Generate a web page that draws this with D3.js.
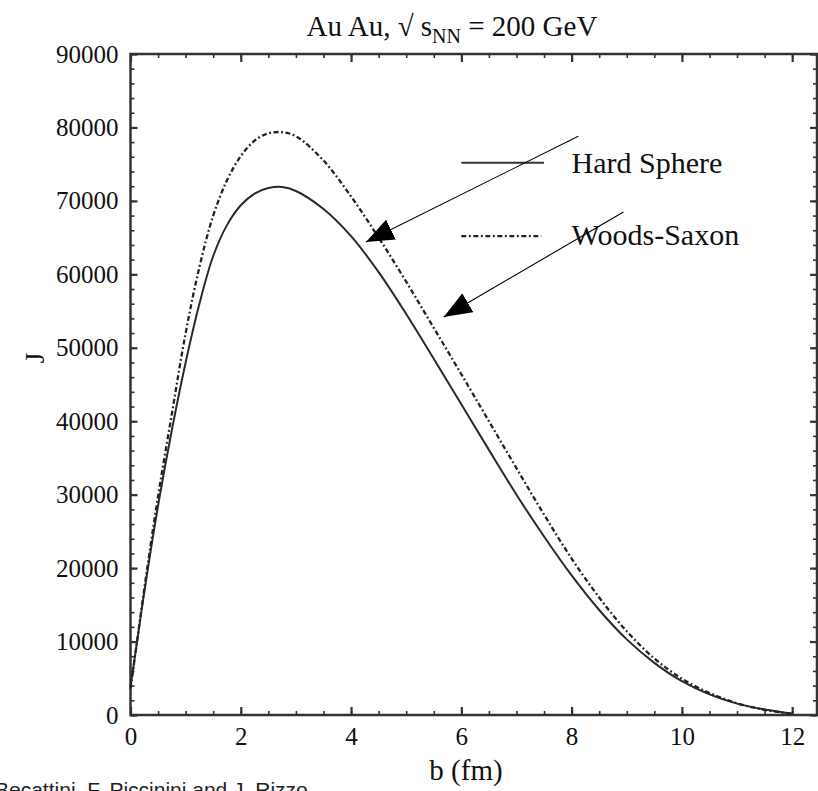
<!DOCTYPE html>
<html>
<head>
<meta charset="utf-8">
<script src="https://cdn.jsdelivr.net/npm/d3@7"></script>
<style>
  body { margin: 0; background: #fff; }
  svg { display: block; }
  .tick text { font-family: "Liberation Serif", "Times New Roman", serif; font-size: 25px; fill: #111; }
</style>
</head>
<body>
<svg id="chart" width="818" height="791"></svg>
<script>
// impact parameter b (fm)
var bValues = [0, 0.1, 0.2, 0.3, 0.5, 0.75, 1, 1.25, 1.5, 1.75, 2, 2.25, 2.5, 2.75, 3, 3.5, 4, 4.5,
               5, 5.5, 6, 6.5, 7, 7.5, 8, 8.5, 9, 9.5, 10, 10.5, 11, 11.5, 12];
var hardSphere = [3800, 9000, 14200, 19200, 28500, 38800, 48000, 56000, 62500, 66700, 69400, 71000, 71750, 71900,
                  71350, 68900, 65200, 60300, 54600, 48500, 42300, 36100, 30000, 24300, 19000, 14300, 10300,
                  7100, 4600, 2800, 1550, 750, 200];
var woodsSaxon = [3600, 9000, 14500, 19800, 29800, 41000, 52000, 61000, 68000, 72800, 76100, 78200, 79200, 79350,
                  78800, 75500, 70600, 65000, 59000, 52700, 46400, 40000, 33600, 27300, 21300, 16000, 11400,
                  7700, 4950, 3000, 1600, 700, 150];
var xTicks = [0, 2, 4, 6, 8, 10, 12];
var yTicks = [0, 10000, 20000, 30000, 40000, 50000, 60000, 70000, 80000, 90000];
var seriesNames = ["Hard Sphere", "Woods-Saxon"];
// annotation arrows, in data units: [b0, J0, b1, J1]
var arrows = [[8.12, 78800, 4.27, 64400], [8.94, 68500, 5.68, 54200]];

var svg = d3.select("#chart");
var margin = {left: 130.5, top: 54, right: 1, bottom: 76};
var width = 818 - margin.left - margin.right;
var height = 791 - margin.top - margin.bottom;

var xScale = d3.scaleLinear().domain([0, 12.45]).range([0, width]);
var yScale = d3.scaleLinear().domain([0, 90000]).range([height, 0]);

var g = svg.append("g").attr("transform", "translate(" + margin.left + "," + margin.top + ")");

var serif = '"Liberation Serif", "Times New Roman", serif';
var dashDot = "5,2.6,1.8,2.6";

// axes: major + minor ticks pointing inward, mirrored on top/right
var minorX = d3.range(0, 12.45, 0.5);
var minorY = d3.range(0, 90001, 2000);

var styleAxis = function(sel) {
    sel.select(".domain").remove();
    sel.selectAll(".tick line").attr("stroke", "#333");
}

g.append("g").attr("transform", "translate(0," + height + ")")
    .call(d3.axisBottom(xScale).tickValues(minorX).tickSize(-4).tickFormat(""))
    .call(styleAxis).selectAll(".tick line").attr("stroke-width", 1.6);
g.append("g").attr("transform", "translate(0," + height + ")")
    .call(d3.axisBottom(xScale).tickValues(xTicks).tickSize(-8).tickPadding(12).tickFormat(d3.format("d")))
    .call(styleAxis).selectAll(".tick line").attr("stroke-width", 2.2);

g.append("g")
    .call(d3.axisTop(xScale).tickValues(minorX).tickSize(-4).tickFormat(""))
    .call(styleAxis).selectAll(".tick line").attr("stroke-width", 1.6);
g.append("g")
    .call(d3.axisTop(xScale).tickValues(xTicks).tickSize(-8).tickFormat(""))
    .call(styleAxis).selectAll(".tick line").attr("stroke-width", 2.2);

g.append("g")
    .call(d3.axisLeft(yScale).tickValues(minorY).tickSize(-4).tickFormat(""))
    .call(styleAxis).selectAll(".tick line").attr("stroke-width", 1.6);
g.append("g")
    .call(d3.axisLeft(yScale).tickValues(yTicks).tickSize(-7).tickPadding(12).tickFormat(d3.format("d")))
    .call(styleAxis).selectAll(".tick line").attr("stroke-width", 2.2);

g.append("g").attr("transform", "translate(" + width + ",0)")
    .call(d3.axisRight(yScale).tickValues(minorY).tickSize(-4).tickFormat(""))
    .call(styleAxis).selectAll(".tick line").attr("stroke-width", 1.6);
g.append("g").attr("transform", "translate(" + width + ",0)")
    .call(d3.axisRight(yScale).tickValues(yTicks).tickSize(-7).tickFormat(""))
    .call(styleAxis).selectAll(".tick line").attr("stroke-width", 2.2);

// frame
g.append("rect")
    .attr("width", width).attr("height", height)
    .attr("fill", "none").attr("stroke", "#333").attr("stroke-width", 2.5);

// curves
var line = function(values) {
    return d3.line()
        .x(function(d, i) { return xScale(bValues[i]); })
        .y(function(d) { return yScale(d); })
        .curve(d3.curveCatmullRom.alpha(0.5))(values);
}

g.append("path")
    .attr("d", line(hardSphere))
    .attr("fill", "none").attr("stroke", "#2a2a2a").attr("stroke-width", 2);

g.append("path")
    .attr("d", line(woodsSaxon))
    .attr("fill", "none").attr("stroke", "#222").attr("stroke-width", 2.3)
    .attr("stroke-dasharray", dashDot);

// legend
var legend = g.append("g");
legend.append("line")
    .attr("x1", xScale(6.0)).attr("x2", xScale(7.5))
    .attr("y1", yScale(75200)).attr("y2", yScale(75200))
    .attr("stroke", "#333").attr("stroke-width", 2);
legend.append("line")
    .attr("x1", xScale(6.0)).attr("x2", xScale(7.45))
    .attr("y1", yScale(65200)).attr("y2", yScale(65200))
    .attr("stroke", "#222").attr("stroke-width", 2.3).attr("stroke-dasharray", dashDot);
legend.selectAll("text.leg")
    .data(seriesNames)
    .enter()
    .append("text")
        .attr("class", "leg")
        .attr("x", xScale(8.0))
        .attr("y", function(d, i) { return yScale(i == 0 ? 73800 : 64000); })
        .style("font-family", serif)
        .style("font-size", "30px")
        .style("fill", "#111")
        .text(function(d) { return d; });

// arrows
svg.append("defs").append("marker")
    .attr("id", "head")
    .attr("viewBox", "0 0 28 22")
    .attr("refX", 28).attr("refY", 11)
    .attr("markerWidth", 28).attr("markerHeight", 22)
    .attr("markerUnits", "userSpaceOnUse")
    .attr("orient", "auto")
  .append("path")
    .attr("d", "M0,0 L28,11 L0,22 Z")
    .attr("fill", "#000");

g.selectAll("line.arrow")
    .data(arrows)
    .enter()
    .append("line")
        .attr("class", "arrow")
        .attr("x1", function(d) { return xScale(d[0]); })
        .attr("y1", function(d) { return yScale(d[1]); })
        .attr("x2", function(d) { return xScale(d[2]); })
        .attr("y2", function(d) { return yScale(d[3]); })
        .attr("stroke", "#000").attr("stroke-width", 1.1)
        .attr("marker-end", "url(#head)");

// labels
var title = svg.append("text")
    .attr("x", 452).attr("y", 36)
    .attr("text-anchor", "middle")
    .style("font-family", serif).style("font-size", "29px").style("fill", "#111");
title.append("tspan").text("Au Au, \u221A s");
title.append("tspan").attr("dy", 7).style("font-size", "20px").text("NN");
title.append("tspan").attr("dy", -7).text(" =  200 GeV");

svg.append("text")
    .attr("x", 466).attr("y", 780)
    .attr("text-anchor", "middle")
    .style("font-family", serif).style("font-size", "29px").style("fill", "#111")
    .text("b (fm)");

svg.append("text")
    .attr("transform", "translate(44,358) rotate(-90)")
    .attr("text-anchor", "middle")
    .style("font-family", serif).style("font-size", "27px").style("fill", "#111")
    .text("J");

svg.append("text")
    .attr("x", -5).attr("y", 797)
    .style("font-family", '"Liberation Sans", Arial, sans-serif').style("font-size", "21px").style("fill", "#222")
    .text("Becattini, F. Piccinini and J. Rizzo");
</script>
</body>
</html>
